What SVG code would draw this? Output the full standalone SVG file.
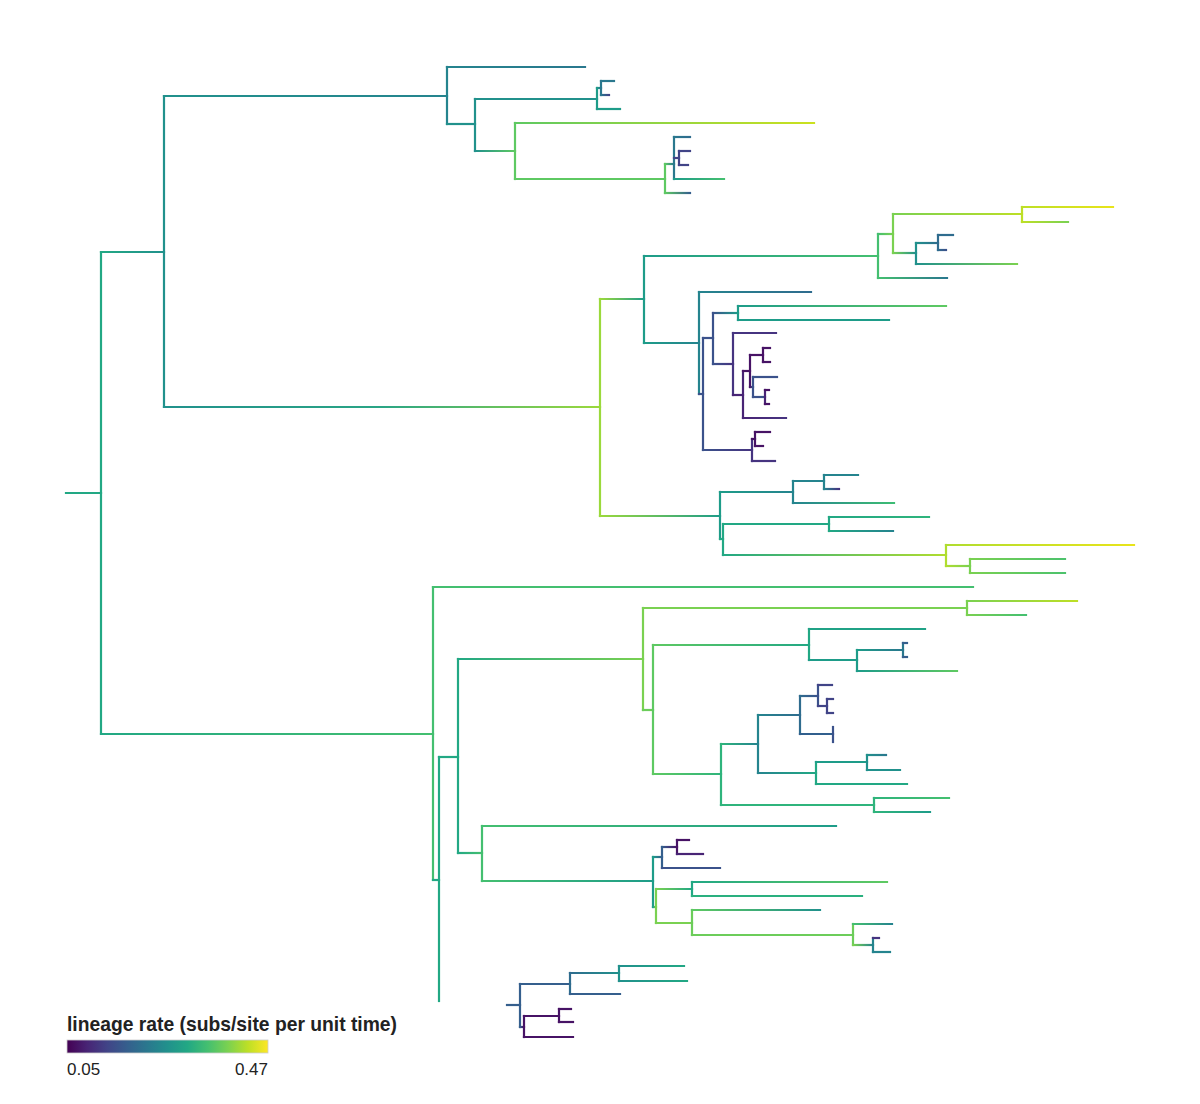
<svg xmlns="http://www.w3.org/2000/svg" width="1200" height="1104" viewBox="0 0 1200 1104">
<style>
line{stroke-width:2.2;stroke-linecap:square;fill:none}
.t{font-family:"Liberation Sans",Arial,sans-serif;fill:#222}
</style>
<defs>
<linearGradient id="vir" x1="0" x2="1" y1="0" y2="0">
<stop offset="0" stop-color="#440154"/><stop offset="0.1" stop-color="#482475"/><stop offset="0.2" stop-color="#414487"/><stop offset="0.3" stop-color="#355f8d"/><stop offset="0.4" stop-color="#2a788e"/><stop offset="0.5" stop-color="#21918c"/><stop offset="0.6" stop-color="#22a884"/><stop offset="0.7" stop-color="#44bf70"/><stop offset="0.8" stop-color="#7ad151"/><stop offset="0.9" stop-color="#bddf26"/><stop offset="1" stop-color="#fde725"/>
</linearGradient>
<linearGradient id="gB" gradientUnits="userSpaceOnUse" x1="101" x2="164"><stop offset="0" stop-color="#22a884"/><stop offset="1" stop-color="#21918c"/></linearGradient>
<linearGradient id="gC" gradientUnits="userSpaceOnUse" x1="164" x2="447"><stop offset="0" stop-color="#21918c"/><stop offset="1" stop-color="#25848e"/></linearGradient>
<linearGradient id="gC1" gradientUnits="userSpaceOnUse" x1="447" x2="585"><stop offset="0" stop-color="#25848e"/><stop offset="1" stop-color="#2a788e"/></linearGradient>
<linearGradient id="gF" gradientUnits="userSpaceOnUse" x1="597" x2="601"><stop offset="0" stop-color="#1e9c89"/><stop offset="1" stop-color="#2a788e"/></linearGradient>
<linearGradient id="gF2" gradientUnits="userSpaceOnUse" x1="601" x2="609"><stop offset="0" stop-color="#2a788e"/><stop offset="1" stop-color="#414487"/></linearGradient>
<linearGradient id="gG" gradientUnits="userSpaceOnUse" x1="475" x2="515"><stop offset="0" stop-color="#21918c"/><stop offset="1" stop-color="#5ec962"/></linearGradient>
<linearGradient id="gG1" gradientUnits="userSpaceOnUse" x1="515" x2="814"><stop offset="0" stop-color="#5ec962"/><stop offset="1" stop-color="#cbe11e"/></linearGradient>
<linearGradient id="gI" gradientUnits="userSpaceOnUse" x1="665" x2="674"><stop offset="0" stop-color="#5ec962"/><stop offset="1" stop-color="#2a788e"/></linearGradient>
<linearGradient id="gI1" gradientUnits="userSpaceOnUse" x1="674" x2="690"><stop offset="0" stop-color="#2a788e"/><stop offset="1" stop-color="#2f6c8e"/></linearGradient>
<linearGradient id="gI3" gradientUnits="userSpaceOnUse" x1="674" x2="724"><stop offset="0" stop-color="#1e9c89"/><stop offset="1" stop-color="#44bf70"/></linearGradient>
<linearGradient id="gH2" gradientUnits="userSpaceOnUse" x1="665" x2="690"><stop offset="0" stop-color="#5ec962"/><stop offset="1" stop-color="#355f8d"/></linearGradient>
<linearGradient id="gK" gradientUnits="userSpaceOnUse" x1="164" x2="600"><stop offset="0" stop-color="#21918c"/><stop offset="0.5" stop-color="#2aa585"/><stop offset="1" stop-color="#9bd93c"/></linearGradient>
<linearGradient id="gL" gradientUnits="userSpaceOnUse" x1="600" x2="644"><stop offset="0" stop-color="#9bd93c"/><stop offset="1" stop-color="#1e9c89"/></linearGradient>
<linearGradient id="gM" gradientUnits="userSpaceOnUse" x1="644" x2="878"><stop offset="0" stop-color="#1e9c89"/><stop offset="1" stop-color="#44bf70"/></linearGradient>
<linearGradient id="gN" gradientUnits="userSpaceOnUse" x1="878" x2="893"><stop offset="0" stop-color="#44bf70"/><stop offset="1" stop-color="#7ad151"/></linearGradient>
<linearGradient id="gO" gradientUnits="userSpaceOnUse" x1="893" x2="1022"><stop offset="0" stop-color="#7ad151"/><stop offset="1" stop-color="#bddf26"/></linearGradient>
<linearGradient id="gO1" gradientUnits="userSpaceOnUse" x1="1022" x2="1113"><stop offset="0" stop-color="#bddf26"/><stop offset="1" stop-color="#e8e41a"/></linearGradient>
<linearGradient id="gO2" gradientUnits="userSpaceOnUse" x1="1022" x2="1068"><stop offset="0" stop-color="#bddf26"/><stop offset="1" stop-color="#7ad151"/></linearGradient>
<linearGradient id="gP" gradientUnits="userSpaceOnUse" x1="893" x2="916"><stop offset="0" stop-color="#7ad151"/><stop offset="1" stop-color="#21918c"/></linearGradient>
<linearGradient id="gQ" gradientUnits="userSpaceOnUse" x1="916" x2="938"><stop offset="0" stop-color="#21918c"/><stop offset="1" stop-color="#2f6c8e"/></linearGradient>
<linearGradient id="gQ2" gradientUnits="userSpaceOnUse" x1="938" x2="946"><stop offset="0" stop-color="#2f6c8e"/><stop offset="1" stop-color="#3b528b"/></linearGradient>
<linearGradient id="gP2" gradientUnits="userSpaceOnUse" x1="916" x2="1017"><stop offset="0" stop-color="#21918c"/><stop offset="1" stop-color="#7ad151"/></linearGradient>
<linearGradient id="gM2" gradientUnits="userSpaceOnUse" x1="878" x2="947"><stop offset="0" stop-color="#44bf70"/><stop offset="1" stop-color="#2a788e"/></linearGradient>
<linearGradient id="gR" gradientUnits="userSpaceOnUse" x1="644" x2="699"><stop offset="0" stop-color="#1e9c89"/><stop offset="1" stop-color="#25848e"/></linearGradient>
<linearGradient id="gR1" gradientUnits="userSpaceOnUse" x1="699" x2="811"><stop offset="0" stop-color="#25848e"/><stop offset="1" stop-color="#2f6c8e"/></linearGradient>
<linearGradient id="gU" gradientUnits="userSpaceOnUse" x1="713" x2="738"><stop offset="0" stop-color="#3b528b"/><stop offset="1" stop-color="#1e9c89"/></linearGradient>
<linearGradient id="gU1" gradientUnits="userSpaceOnUse" x1="738" x2="946"><stop offset="0" stop-color="#1e9c89"/><stop offset="1" stop-color="#5ec962"/></linearGradient>
<linearGradient id="gV" gradientUnits="userSpaceOnUse" x1="713" x2="733"><stop offset="0" stop-color="#3b528b"/><stop offset="1" stop-color="#463480"/></linearGradient>
<linearGradient id="gZ" gradientUnits="userSpaceOnUse" x1="750" x2="753"><stop offset="0" stop-color="#471365"/><stop offset="1" stop-color="#3b528b"/></linearGradient>
<linearGradient id="gW2" gradientUnits="userSpaceOnUse" x1="743" x2="786"><stop offset="0" stop-color="#482475"/><stop offset="1" stop-color="#463480"/></linearGradient>
<linearGradient id="gAA" gradientUnits="userSpaceOnUse" x1="703" x2="752"><stop offset="0" stop-color="#3b528b"/><stop offset="1" stop-color="#463480"/></linearGradient>
<linearGradient id="gAC" gradientUnits="userSpaceOnUse" x1="600" x2="720"><stop offset="0" stop-color="#9bd93c"/><stop offset="1" stop-color="#1e9c89"/></linearGradient>
<linearGradient id="gAD" gradientUnits="userSpaceOnUse" x1="720" x2="793"><stop offset="0" stop-color="#1e9c89"/><stop offset="1" stop-color="#25848e"/></linearGradient>
<linearGradient id="gAF2" gradientUnits="userSpaceOnUse" x1="824" x2="839"><stop offset="0" stop-color="#25848e"/><stop offset="1" stop-color="#463480"/></linearGradient>
<linearGradient id="gAD2" gradientUnits="userSpaceOnUse" x1="793" x2="894"><stop offset="0" stop-color="#25848e"/><stop offset="1" stop-color="#3dbc74"/></linearGradient>
<linearGradient id="gAG1" gradientUnits="userSpaceOnUse" x1="829" x2="929"><stop offset="0" stop-color="#22a884"/><stop offset="1" stop-color="#2fb47c"/></linearGradient>
<linearGradient id="gAG2" gradientUnits="userSpaceOnUse" x1="829" x2="893"><stop offset="0" stop-color="#22a884"/><stop offset="1" stop-color="#25848e"/></linearGradient>
<linearGradient id="gAH" gradientUnits="userSpaceOnUse" x1="723" x2="946"><stop offset="0" stop-color="#22a884"/><stop offset="1" stop-color="#b0dd2f"/></linearGradient>
<linearGradient id="gAH1" gradientUnits="userSpaceOnUse" x1="946" x2="1134"><stop offset="0" stop-color="#b0dd2f"/><stop offset="1" stop-color="#e8e41a"/></linearGradient>
<linearGradient id="gAI" gradientUnits="userSpaceOnUse" x1="946" x2="970"><stop offset="0" stop-color="#b0dd2f"/><stop offset="1" stop-color="#7ad151"/></linearGradient>
<linearGradient id="gAI1" gradientUnits="userSpaceOnUse" x1="970" x2="1065"><stop offset="0" stop-color="#7ad151"/><stop offset="1" stop-color="#4cc26c"/></linearGradient>
<linearGradient id="gBA" gradientUnits="userSpaceOnUse" x1="101" x2="433"><stop offset="0" stop-color="#22a884"/><stop offset="1" stop-color="#44bf70"/></linearGradient>
<linearGradient id="gBD" gradientUnits="userSpaceOnUse" x1="458" x2="643"><stop offset="0" stop-color="#22a884"/><stop offset="1" stop-color="#7ad151"/></linearGradient>
<linearGradient id="gBE1" gradientUnits="userSpaceOnUse" x1="967" x2="1077"><stop offset="0" stop-color="#7ad151"/><stop offset="1" stop-color="#bddf26"/></linearGradient>
<linearGradient id="gBE2" gradientUnits="userSpaceOnUse" x1="967" x2="1026"><stop offset="0" stop-color="#7ad151"/><stop offset="1" stop-color="#44bf70"/></linearGradient>
<linearGradient id="gBG" gradientUnits="userSpaceOnUse" x1="653" x2="809"><stop offset="0" stop-color="#5ec962"/><stop offset="1" stop-color="#22a884"/></linearGradient>
<linearGradient id="gBI" gradientUnits="userSpaceOnUse" x1="857" x2="903"><stop offset="0" stop-color="#1e9c89"/><stop offset="1" stop-color="#2a788e"/></linearGradient>
<linearGradient id="gBH2" gradientUnits="userSpaceOnUse" x1="857" x2="957"><stop offset="0" stop-color="#1e9c89"/><stop offset="1" stop-color="#5ec962"/></linearGradient>
<linearGradient id="gBJ" gradientUnits="userSpaceOnUse" x1="653" x2="721"><stop offset="0" stop-color="#5ec962"/><stop offset="1" stop-color="#2fb47c"/></linearGradient>
<linearGradient id="gBK" gradientUnits="userSpaceOnUse" x1="721" x2="758"><stop offset="0" stop-color="#2fb47c"/><stop offset="1" stop-color="#25848e"/></linearGradient>
<linearGradient id="gBL" gradientUnits="userSpaceOnUse" x1="758" x2="800"><stop offset="0" stop-color="#25848e"/><stop offset="1" stop-color="#2f6c8e"/></linearGradient>
<linearGradient id="gBM" gradientUnits="userSpaceOnUse" x1="800" x2="818"><stop offset="0" stop-color="#2f6c8e"/><stop offset="1" stop-color="#3b528b"/></linearGradient>
<linearGradient id="gBP" gradientUnits="userSpaceOnUse" x1="758" x2="816"><stop offset="0" stop-color="#25848e"/><stop offset="1" stop-color="#22a884"/></linearGradient>
<linearGradient id="gBQ1" gradientUnits="userSpaceOnUse" x1="867" x2="886"><stop offset="0" stop-color="#21918c"/><stop offset="1" stop-color="#2a788e"/></linearGradient>
<linearGradient id="gBR1" gradientUnits="userSpaceOnUse" x1="874" x2="949"><stop offset="0" stop-color="#2fb47c"/><stop offset="1" stop-color="#44bf70"/></linearGradient>
<linearGradient id="gBR2" gradientUnits="userSpaceOnUse" x1="874" x2="930"><stop offset="0" stop-color="#2fb47c"/><stop offset="1" stop-color="#1e9c89"/></linearGradient>
<linearGradient id="gBS" gradientUnits="userSpaceOnUse" x1="458" x2="482"><stop offset="0" stop-color="#22a884"/><stop offset="1" stop-color="#44bf70"/></linearGradient>
<linearGradient id="gBS1" gradientUnits="userSpaceOnUse" x1="482" x2="836"><stop offset="0" stop-color="#44bf70"/><stop offset="1" stop-color="#1e9c89"/></linearGradient>
<linearGradient id="gBT" gradientUnits="userSpaceOnUse" x1="482" x2="653"><stop offset="0" stop-color="#44bf70"/><stop offset="1" stop-color="#1e9c89"/></linearGradient>
<linearGradient id="gBU" gradientUnits="userSpaceOnUse" x1="653" x2="662"><stop offset="0" stop-color="#1e9c89"/><stop offset="1" stop-color="#355f8d"/></linearGradient>
<linearGradient id="gBV" gradientUnits="userSpaceOnUse" x1="662" x2="677"><stop offset="0" stop-color="#355f8d"/><stop offset="1" stop-color="#471365"/></linearGradient>
<linearGradient id="gBW" gradientUnits="userSpaceOnUse" x1="653" x2="656"><stop offset="0" stop-color="#1e9c89"/><stop offset="1" stop-color="#7ad151"/></linearGradient>
<linearGradient id="gBX" gradientUnits="userSpaceOnUse" x1="656" x2="692"><stop offset="0" stop-color="#7ad151"/><stop offset="1" stop-color="#22a884"/></linearGradient>
<linearGradient id="gBX1" gradientUnits="userSpaceOnUse" x1="692" x2="887"><stop offset="0" stop-color="#22a884"/><stop offset="1" stop-color="#5ec962"/></linearGradient>
<linearGradient id="gBY1" gradientUnits="userSpaceOnUse" x1="692" x2="820"><stop offset="0" stop-color="#5ec962"/><stop offset="1" stop-color="#21918c"/></linearGradient>
<linearGradient id="gBZ1" gradientUnits="userSpaceOnUse" x1="853" x2="892"><stop offset="0" stop-color="#44bf70"/><stop offset="1" stop-color="#25848e"/></linearGradient>
<linearGradient id="gCA" gradientUnits="userSpaceOnUse" x1="853" x2="873"><stop offset="0" stop-color="#7ad151"/><stop offset="1" stop-color="#25848e"/></linearGradient>
<linearGradient id="gCD" gradientUnits="userSpaceOnUse" x1="570" x2="619"><stop offset="0" stop-color="#2f6c8e"/><stop offset="1" stop-color="#21918c"/></linearGradient>
<linearGradient id="gCD1" gradientUnits="userSpaceOnUse" x1="619" x2="687"><stop offset="0" stop-color="#21918c"/><stop offset="1" stop-color="#22a884"/></linearGradient>
<linearGradient id="gCE" gradientUnits="userSpaceOnUse" x1="520" x2="524"><stop offset="0" stop-color="#355f8d"/><stop offset="1" stop-color="#471365"/></linearGradient>
</defs>
<rect width="1200" height="1104" fill="#ffffff"/>
<g id="tree-connectors">
<line x1="66" y1="493" x2="101" y2="493" stroke="#22a884"/>
<line x1="101" y1="252" x2="101" y2="734" stroke="#22a884"/>
<line x1="101" y1="252" x2="164" y2="252" stroke="url(#gB)"/>
<line x1="164" y1="96" x2="164" y2="407" stroke="#21918c"/>
<line x1="164" y1="96" x2="447" y2="96" stroke="url(#gC)"/>
<line x1="447" y1="67" x2="447" y2="124" stroke="#25848e"/>
<line x1="447" y1="67" x2="585" y2="67" stroke="url(#gC1)"/>
<line x1="447" y1="124" x2="475" y2="124" stroke="#21918c"/>
<line x1="475" y1="99" x2="475" y2="151" stroke="#21918c"/>
<line x1="475" y1="99" x2="597" y2="99" stroke="#21918c"/>
<line x1="597" y1="88" x2="597" y2="109" stroke="#1e9c89"/>
<line x1="597" y1="88" x2="601" y2="88" stroke="url(#gF)"/>
<line x1="601" y1="81" x2="601" y2="95" stroke="#2a788e"/>
<line x1="601" y1="81" x2="614" y2="81" stroke="#2a788e"/>
<line x1="601" y1="95" x2="609" y2="95" stroke="url(#gF2)"/>
<line x1="597" y1="109" x2="620" y2="109" stroke="#1e9c89"/>
<line x1="475" y1="151" x2="515" y2="151" stroke="url(#gG)"/>
<line x1="515" y1="123" x2="515" y2="179" stroke="#5ec962"/>
<line x1="515" y1="123" x2="814" y2="123" stroke="url(#gG1)"/>
<line x1="515" y1="179" x2="665" y2="179" stroke="#5ec962"/>
<line x1="665" y1="164" x2="665" y2="193" stroke="#5ec962"/>
<line x1="665" y1="164" x2="674" y2="164" stroke="url(#gI)"/>
<line x1="674" y1="137" x2="674" y2="179" stroke="#2a788e"/>
<line x1="674" y1="137" x2="690" y2="137" stroke="url(#gI1)"/>
<line x1="674" y1="158" x2="679" y2="158" stroke="#414487"/>
<line x1="679" y1="151" x2="679" y2="165" stroke="#414487"/>
<line x1="679" y1="151" x2="690" y2="151" stroke="#414487"/>
<line x1="679" y1="165" x2="688" y2="165" stroke="#414487"/>
<line x1="674" y1="179" x2="724" y2="179" stroke="url(#gI3)"/>
<line x1="665" y1="193" x2="690" y2="193" stroke="url(#gH2)"/>
<line x1="164" y1="407" x2="600" y2="407" stroke="url(#gK)"/>
<line x1="600" y1="299" x2="600" y2="516" stroke="#9bd93c"/>
<line x1="600" y1="299" x2="644" y2="299" stroke="url(#gL)"/>
<line x1="644" y1="256" x2="644" y2="343" stroke="#1e9c89"/>
<line x1="644" y1="256" x2="878" y2="256" stroke="url(#gM)"/>
<line x1="878" y1="234" x2="878" y2="278" stroke="#44bf70"/>
<line x1="878" y1="234" x2="893" y2="234" stroke="url(#gN)"/>
<line x1="893" y1="214" x2="893" y2="253" stroke="#7ad151"/>
<line x1="893" y1="214" x2="1022" y2="214" stroke="url(#gO)"/>
<line x1="1022" y1="207" x2="1022" y2="222" stroke="#bddf26"/>
<line x1="1022" y1="207" x2="1113" y2="207" stroke="url(#gO1)"/>
<line x1="1022" y1="222" x2="1068" y2="222" stroke="url(#gO2)"/>
<line x1="893" y1="253" x2="916" y2="253" stroke="url(#gP)"/>
<line x1="916" y1="243" x2="916" y2="264" stroke="#21918c"/>
<line x1="916" y1="243" x2="938" y2="243" stroke="url(#gQ)"/>
<line x1="938" y1="235" x2="938" y2="250" stroke="#2f6c8e"/>
<line x1="938" y1="235" x2="953" y2="235" stroke="#2f6c8e"/>
<line x1="938" y1="250" x2="946" y2="250" stroke="url(#gQ2)"/>
<line x1="916" y1="264" x2="1017" y2="264" stroke="url(#gP2)"/>
<line x1="878" y1="278" x2="947" y2="278" stroke="url(#gM2)"/>
<line x1="644" y1="343" x2="699" y2="343" stroke="url(#gR)"/>
<line x1="699" y1="292" x2="699" y2="394" stroke="#25848e"/>
<line x1="699" y1="292" x2="811" y2="292" stroke="url(#gR1)"/>
<line x1="699" y1="394" x2="703" y2="394" stroke="#3b528b"/>
<line x1="703" y1="338" x2="703" y2="450" stroke="#3b528b"/>
<line x1="703" y1="338" x2="713" y2="338" stroke="#3b528b"/>
<line x1="713" y1="313" x2="713" y2="364" stroke="#3b528b"/>
<line x1="713" y1="313" x2="738" y2="313" stroke="url(#gU)"/>
<line x1="738" y1="306" x2="738" y2="320" stroke="#1e9c89"/>
<line x1="738" y1="306" x2="946" y2="306" stroke="url(#gU1)"/>
<line x1="738" y1="320" x2="889" y2="320" stroke="#1e9c89"/>
<line x1="713" y1="364" x2="733" y2="364" stroke="url(#gV)"/>
<line x1="733" y1="333" x2="733" y2="395" stroke="#463480"/>
<line x1="733" y1="333" x2="776" y2="333" stroke="#463480"/>
<line x1="733" y1="395" x2="743" y2="395" stroke="#482475"/>
<line x1="743" y1="371" x2="743" y2="418" stroke="#482475"/>
<line x1="743" y1="371" x2="750" y2="371" stroke="#471365"/>
<line x1="750" y1="355" x2="750" y2="387" stroke="#471365"/>
<line x1="750" y1="355" x2="763" y2="355" stroke="#471365"/>
<line x1="763" y1="348" x2="763" y2="362" stroke="#471365"/>
<line x1="763" y1="348" x2="770" y2="348" stroke="#471365"/>
<line x1="763" y1="362" x2="770" y2="362" stroke="#471365"/>
<line x1="750" y1="387" x2="753" y2="387" stroke="url(#gZ)"/>
<line x1="753" y1="377" x2="753" y2="397" stroke="#3b528b"/>
<line x1="753" y1="377" x2="777" y2="377" stroke="#3b528b"/>
<line x1="753" y1="397" x2="765" y2="397" stroke="#3b528b"/>
<line x1="765" y1="390" x2="765" y2="404" stroke="#482475"/>
<line x1="765" y1="390" x2="769" y2="390" stroke="#471365"/>
<line x1="765" y1="404" x2="769" y2="404" stroke="#471365"/>
<line x1="743" y1="418" x2="786" y2="418" stroke="url(#gW2)"/>
<line x1="703" y1="450" x2="752" y2="450" stroke="url(#gAA)"/>
<line x1="752" y1="439" x2="752" y2="461" stroke="#463480"/>
<line x1="752" y1="439" x2="755" y2="439" stroke="#471365"/>
<line x1="755" y1="432" x2="755" y2="446" stroke="#471365"/>
<line x1="755" y1="432" x2="770" y2="432" stroke="#471365"/>
<line x1="755" y1="446" x2="763" y2="446" stroke="#471365"/>
<line x1="752" y1="461" x2="775" y2="461" stroke="#463480"/>
<line x1="600" y1="516" x2="720" y2="516" stroke="url(#gAC)"/>
<line x1="720" y1="492" x2="720" y2="539" stroke="#1e9c89"/>
<line x1="720" y1="492" x2="793" y2="492" stroke="url(#gAD)"/>
<line x1="793" y1="481" x2="793" y2="503" stroke="#25848e"/>
<line x1="793" y1="481" x2="824" y2="481" stroke="#25848e"/>
<line x1="824" y1="475" x2="824" y2="489" stroke="#25848e"/>
<line x1="824" y1="475" x2="858" y2="475" stroke="#25848e"/>
<line x1="824" y1="489" x2="839" y2="489" stroke="url(#gAF2)"/>
<line x1="793" y1="503" x2="894" y2="503" stroke="url(#gAD2)"/>
<line x1="720" y1="539" x2="723" y2="539" stroke="#22a884"/>
<line x1="723" y1="524" x2="723" y2="555" stroke="#22a884"/>
<line x1="723" y1="524" x2="829" y2="524" stroke="#22a884"/>
<line x1="829" y1="517" x2="829" y2="531" stroke="#22a884"/>
<line x1="829" y1="517" x2="929" y2="517" stroke="url(#gAG1)"/>
<line x1="829" y1="531" x2="893" y2="531" stroke="url(#gAG2)"/>
<line x1="723" y1="555" x2="946" y2="555" stroke="url(#gAH)"/>
<line x1="946" y1="545" x2="946" y2="566" stroke="#b0dd2f"/>
<line x1="946" y1="545" x2="1134" y2="545" stroke="url(#gAH1)"/>
<line x1="946" y1="566" x2="970" y2="566" stroke="url(#gAI)"/>
<line x1="970" y1="559" x2="970" y2="573" stroke="#7ad151"/>
<line x1="970" y1="559" x2="1065" y2="559" stroke="url(#gAI1)"/>
<line x1="970" y1="573" x2="1065" y2="573" stroke="url(#gAI1)"/>
<line x1="101" y1="734" x2="433" y2="734" stroke="url(#gBA)"/>
<line x1="433" y1="587" x2="433" y2="880" stroke="#44bf70"/>
<line x1="433" y1="587" x2="973" y2="587" stroke="#44bf70"/>
<line x1="433" y1="880" x2="439" y2="880" stroke="#22a884"/>
<line x1="439" y1="757" x2="439" y2="1001" stroke="#22a884"/>
<line x1="439" y1="757" x2="458" y2="757" stroke="#22a884"/>
<line x1="458" y1="659" x2="458" y2="853" stroke="#22a884"/>
<line x1="458" y1="659" x2="643" y2="659" stroke="url(#gBD)"/>
<line x1="643" y1="608" x2="643" y2="710" stroke="#7ad151"/>
<line x1="643" y1="608" x2="967" y2="608" stroke="#7ad151"/>
<line x1="967" y1="601" x2="967" y2="615" stroke="#7ad151"/>
<line x1="967" y1="601" x2="1077" y2="601" stroke="url(#gBE1)"/>
<line x1="967" y1="615" x2="1026" y2="615" stroke="url(#gBE2)"/>
<line x1="643" y1="710" x2="653" y2="710" stroke="#6ccd5a"/>
<line x1="653" y1="645" x2="653" y2="774" stroke="#5ec962"/>
<line x1="653" y1="645" x2="809" y2="645" stroke="url(#gBG)"/>
<line x1="809" y1="629" x2="809" y2="660" stroke="#22a884"/>
<line x1="809" y1="629" x2="925" y2="629" stroke="#20a286"/>
<line x1="809" y1="660" x2="857" y2="660" stroke="#1e9c89"/>
<line x1="857" y1="650" x2="857" y2="671" stroke="#1e9c89"/>
<line x1="857" y1="650" x2="903" y2="650" stroke="url(#gBI)"/>
<line x1="903" y1="643" x2="903" y2="657" stroke="#2a788e"/>
<line x1="903" y1="643" x2="907" y2="643" stroke="#355f8d"/>
<line x1="903" y1="657" x2="907" y2="657" stroke="#355f8d"/>
<line x1="857" y1="671" x2="957" y2="671" stroke="url(#gBH2)"/>
<line x1="653" y1="774" x2="721" y2="774" stroke="url(#gBJ)"/>
<line x1="721" y1="744" x2="721" y2="805" stroke="#2fb47c"/>
<line x1="721" y1="744" x2="758" y2="744" stroke="url(#gBK)"/>
<line x1="758" y1="715" x2="758" y2="773" stroke="#25848e"/>
<line x1="758" y1="715" x2="800" y2="715" stroke="url(#gBL)"/>
<line x1="800" y1="696" x2="800" y2="734" stroke="#2f6c8e"/>
<line x1="800" y1="696" x2="818" y2="696" stroke="url(#gBM)"/>
<line x1="818" y1="685" x2="818" y2="706" stroke="#3b528b"/>
<line x1="818" y1="685" x2="832" y2="685" stroke="#414487"/>
<line x1="818" y1="706" x2="827" y2="706" stroke="#414487"/>
<line x1="827" y1="699" x2="827" y2="713" stroke="#414487"/>
<line x1="827" y1="699" x2="833" y2="699" stroke="#414487"/>
<line x1="827" y1="713" x2="833" y2="713" stroke="#414487"/>
<line x1="800" y1="734" x2="833" y2="734" stroke="#315f8d"/>
<line x1="833" y1="727" x2="833" y2="742" stroke="#3b528b"/>
<line x1="758" y1="773" x2="816" y2="773" stroke="url(#gBP)"/>
<line x1="816" y1="762" x2="816" y2="784" stroke="#22a884"/>
<line x1="816" y1="762" x2="867" y2="762" stroke="#1e9c89"/>
<line x1="867" y1="755" x2="867" y2="770" stroke="#21918c"/>
<line x1="867" y1="755" x2="886" y2="755" stroke="url(#gBQ1)"/>
<line x1="867" y1="770" x2="900" y2="770" stroke="#21918c"/>
<line x1="816" y1="784" x2="907" y2="784" stroke="#22a884"/>
<line x1="721" y1="805" x2="874" y2="805" stroke="#2fb47c"/>
<line x1="874" y1="798" x2="874" y2="812" stroke="#2fb47c"/>
<line x1="874" y1="798" x2="949" y2="798" stroke="url(#gBR1)"/>
<line x1="874" y1="812" x2="930" y2="812" stroke="url(#gBR2)"/>
<line x1="458" y1="853" x2="482" y2="853" stroke="url(#gBS)"/>
<line x1="482" y1="826" x2="482" y2="881" stroke="#44bf70"/>
<line x1="482" y1="826" x2="836" y2="826" stroke="url(#gBS1)"/>
<line x1="482" y1="881" x2="653" y2="881" stroke="url(#gBT)"/>
<line x1="653" y1="857" x2="653" y2="907" stroke="#1e9c89"/>
<line x1="653" y1="857" x2="662" y2="857" stroke="url(#gBU)"/>
<line x1="662" y1="847" x2="662" y2="868" stroke="#355f8d"/>
<line x1="662" y1="847" x2="677" y2="847" stroke="url(#gBV)"/>
<line x1="677" y1="840" x2="677" y2="854" stroke="#471365"/>
<line x1="677" y1="840" x2="689" y2="840" stroke="#471365"/>
<line x1="677" y1="854" x2="703" y2="854" stroke="#482475"/>
<line x1="662" y1="868" x2="720" y2="868" stroke="#3b528b"/>
<line x1="653" y1="907" x2="656" y2="907" stroke="url(#gBW)"/>
<line x1="656" y1="889" x2="656" y2="923" stroke="#7ad151"/>
<line x1="656" y1="889" x2="692" y2="889" stroke="url(#gBX)"/>
<line x1="692" y1="882" x2="692" y2="896" stroke="#22a884"/>
<line x1="692" y1="882" x2="887" y2="882" stroke="url(#gBX1)"/>
<line x1="692" y1="896" x2="862" y2="896" stroke="#2ab07f"/>
<line x1="656" y1="923" x2="692" y2="923" stroke="#7ad151"/>
<line x1="692" y1="910" x2="692" y2="935" stroke="#6ccd5a"/>
<line x1="692" y1="910" x2="820" y2="910" stroke="url(#gBY1)"/>
<line x1="692" y1="935" x2="853" y2="935" stroke="#6ccd5a"/>
<line x1="853" y1="924" x2="853" y2="945" stroke="#6ccd5a"/>
<line x1="853" y1="924" x2="892" y2="924" stroke="url(#gBZ1)"/>
<line x1="853" y1="945" x2="873" y2="945" stroke="url(#gCA)"/>
<line x1="873" y1="938" x2="873" y2="952" stroke="#25848e"/>
<line x1="873" y1="938" x2="879" y2="938" stroke="#463480"/>
<line x1="873" y1="952" x2="890" y2="952" stroke="#25848e"/>
<line x1="507" y1="1005" x2="520" y2="1005" stroke="#355f8d"/>
<line x1="520" y1="984" x2="520" y2="1027" stroke="#355f8d"/>
<line x1="520" y1="984" x2="570" y2="984" stroke="#355f8d"/>
<line x1="570" y1="973" x2="570" y2="994" stroke="#2f6c8e"/>
<line x1="570" y1="973" x2="619" y2="973" stroke="url(#gCD)"/>
<line x1="619" y1="966" x2="619" y2="981" stroke="#21918c"/>
<line x1="619" y1="966" x2="684" y2="966" stroke="url(#gCD1)"/>
<line x1="619" y1="981" x2="687" y2="981" stroke="url(#gCD1)"/>
<line x1="570" y1="994" x2="620" y2="994" stroke="#355f8d"/>
<line x1="520" y1="1027" x2="524" y2="1027" stroke="url(#gCE)"/>
<line x1="524" y1="1016" x2="524" y2="1037" stroke="#471365"/>
<line x1="524" y1="1016" x2="559" y2="1016" stroke="#471365"/>
<line x1="559" y1="1009" x2="559" y2="1022" stroke="#471365"/>
<line x1="559" y1="1009" x2="571" y2="1009" stroke="#471365"/>
<line x1="559" y1="1022" x2="573" y2="1022" stroke="#471365"/>
<line x1="524" y1="1037" x2="573" y2="1037" stroke="#471365"/>
</g>
<g id="legend">
<text class="t" x="67" y="1031" font-size="19.3" font-weight="bold">lineage rate (subs/site per unit time)</text>
<rect x="67" y="1040" width="201" height="13" fill="url(#vir)" stroke="#cccccc" stroke-width="0.8"/>
<text class="t" x="67" y="1075" font-size="17">0.05</text>
<text class="t" x="268" y="1075" font-size="17" text-anchor="end">0.47</text>
</g>
</svg>
